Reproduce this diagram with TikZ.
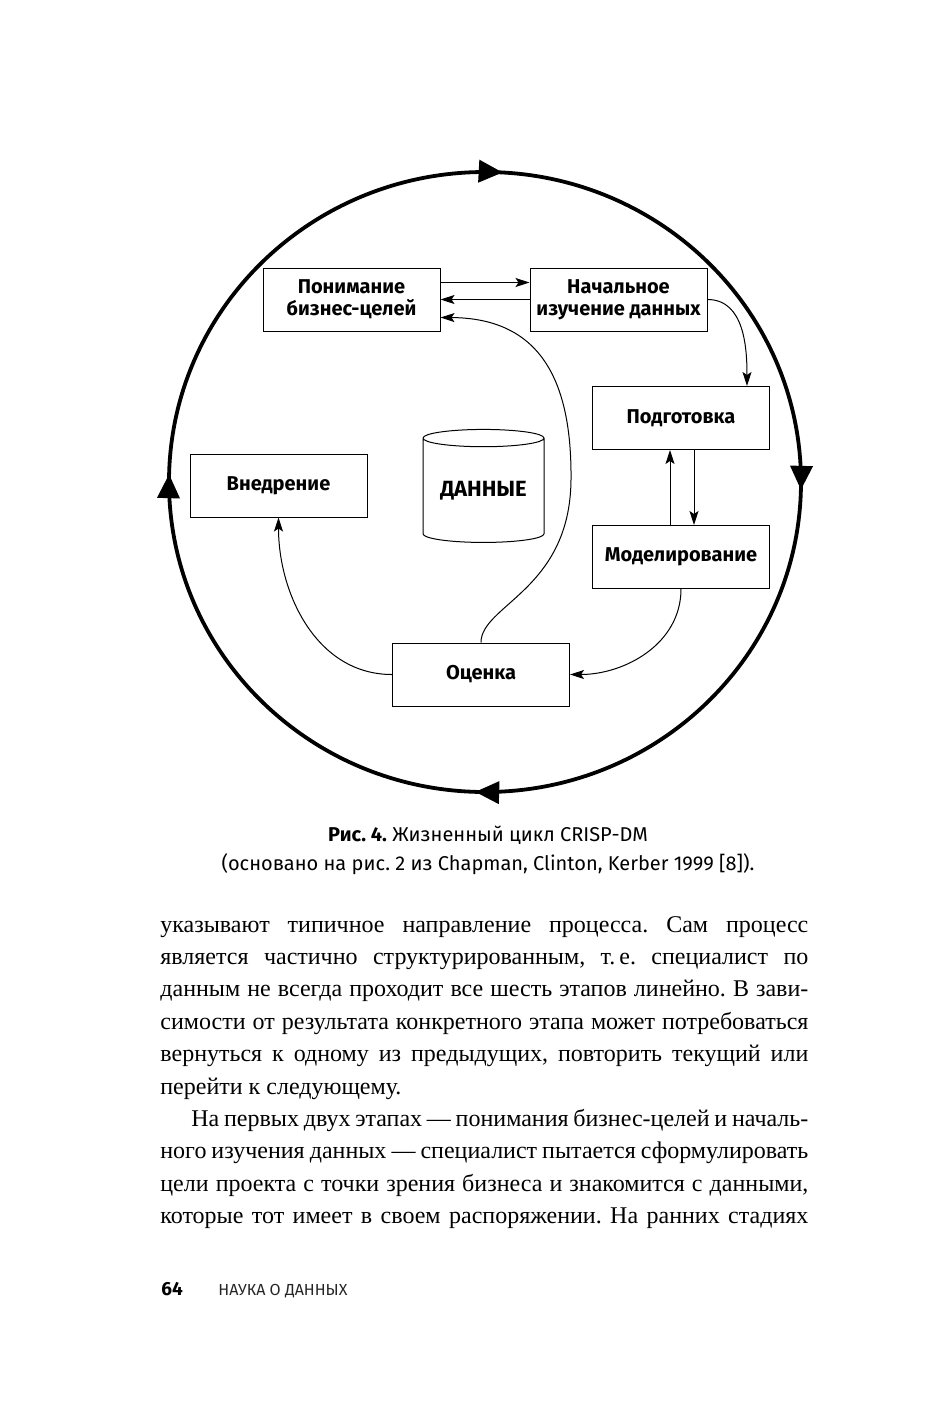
\documentclass[tikz,border=0pt]{standalone}
\usepackage{fontspec}
\setmainfont{Liberation Serif}
\setsansfont{Fira Sans}
\usetikzlibrary{arrows.meta,shapes.geometric,decorations.markings}
\frenchspacing

\begin{document}
\begin{tikzpicture}[x=0.5pt,y=0.5pt]
\tikzstyle{stage}=[draw, line width=0.5pt, minimum width=88.5pt, minimum height=31.5pt, inner sep=0pt, align=center, font=\sffamily\bfseries\fontsize{10}{11}\selectfont]
\tikzstyle{flow}=[-{Stealth[length=7pt,width=4.5pt,inset=1.5pt]}, line width=0.5pt]
\tikzstyle{txtline}=[anchor=base west, inner sep=0pt, font=\fontsize{12}{16}\selectfont]
\useasboundingbox (0,0) rectangle (936,-1410);

% outer cycle
\draw[line width=1.9pt, postaction={decorate}, decoration={markings,
  mark=at position 0.241 with {\arrowreversed{Triangle[length=12pt,width=11pt]}},
  mark=at position 0.496 with {\arrowreversed{Triangle[length=12pt,width=11pt]}},
  mark=at position 0.745 with {\arrowreversed{Triangle[length=12pt,width=11pt]}},
  mark=at position 0.996 with {\arrowreversed{Triangle[length=12pt,width=11pt]}}}]
  (485,-482) ellipse (316 and 310);

% stages
\node[stage] (biz) at (351.5,-299.5) {Понимание\\бизнес-целей};
\node[stage] (und) at (618.5,-299.5) {Начальное\\изучение данных};
\node[stage] (prep) at (681,-418) {Подготовка};
\node[stage] (model) at (681,-557) {Моделирование};
\node[stage] (deploy) at (278.5,-485.5) {Внедрение};
\node[stage] (eval) at (481,-674.5) {Оценка};
\node[cylinder, draw, line width=0.5pt, shape border rotate=90, aspect=0.2, minimum width=60.5pt, minimum height=56.5pt, inner sep=0pt, font=\sffamily\bfseries\fontsize{11}{12}\selectfont] (data) at (483.5,-490.5) {\raisebox{-3pt}{ДАННЫЕ}};

% transitions
\draw[flow] ([yshift=8.5pt]biz.east) -- ([yshift=8.5pt]und.west);
\draw[flow] (und.west) -- (biz.east);
\draw[flow] (und.east) to[out=0,in=90] ([xshift=33pt]prep.north);
\draw[flow] ([xshift=6.5pt]prep.south) -- ([xshift=6.5pt]model.north);
\draw[flow] ([xshift=-5.5pt]model.north) -- ([xshift=-5.5pt]prep.south);
\draw[flow] (model.south) to[out=-90,in=0] (eval.east);
\draw[flow] (eval.west) to[out=180,in=-90] (deploy.south);
\draw[flow] (eval.north) .. controls (481,-605) and (570,-590) .. (571,-480)
  .. controls (572,-380) and (540,-318) .. ([yshift=-9pt]biz.east);

% caption
\node[anchor=base, font=\sffamily\fontsize{10}{12}\selectfont] (cap1) at (488,-841) {\textbf{Рис. 4.} Жизненный цикл CRISP-DM};
\node[anchor=base, font=\sffamily\fontsize{10}{12}\selectfont] (cap2) at (488,-870) {(основано на рис. 2 из Chapman, Clinton, Kerber 1999 [8]).};

% body text
\node[txtline] (l1) at (160,-932) {\makebox[324pt][s]{указывают типичное направление процесса. Сам процесс}};
\node[txtline] (l2) at (160,-964.4) {\makebox[324pt][s]{является частично структурированным, т.\,е. специалист по}};
\node[txtline] (l3) at (160,-996.8) {\makebox[324pt][s]{данным не всегда проходит все шесть этапов линейно. В зави-}};
\node[txtline] (l4) at (160,-1029.2) {\makebox[324pt][s]{симости от результата конкретного этапа может потребоваться}};
\node[txtline] (l5) at (160,-1061.6) {\makebox[324pt][s]{вернуться к одному из предыдущих, повторить текущий или}};
\node[txtline] (l6) at (160,-1094) {перейти к следующему.};
\node[txtline] (l7) at (191,-1126.4) {\makebox[308.5pt][s]{На первых двух этапах — понимания бизнес-целей и началь-}};
\node[txtline] (l8) at (160,-1158.8) {\makebox[324pt][s]{ного изучения данных — специалист пытается сформулировать}};
\node[txtline] (l9) at (160,-1191.2) {\makebox[324pt][s]{цели проекта с точки зрения бизнеса и знакомится с данными,}};
\node[txtline] (l10) at (160,-1223.6) {\makebox[324pt][s]{которые тот имеет в своем распоряжении. На ранних стадиях}};

% running foot
\node[anchor=base west, inner sep=0pt, font=\sffamily\bfseries\fontsize{9.5}{11}\selectfont] (pgnum) at (161,-1295) {64};
\node[anchor=base west, inner sep=0pt, font=\sffamily\fontsize{8}{9}\selectfont, text=black!85] (runhead) at (218,-1295) {НАУКА О ДАННЫХ};
\end{tikzpicture}
\end{document}
